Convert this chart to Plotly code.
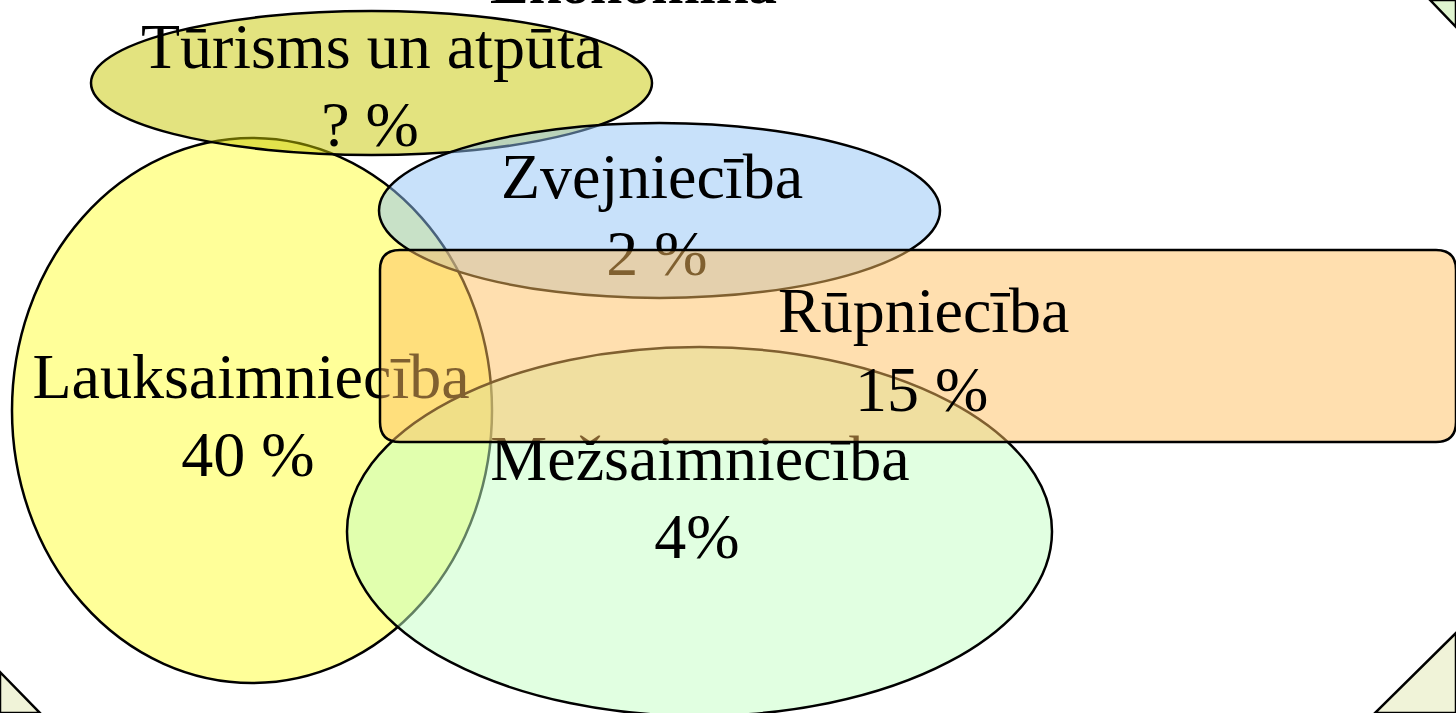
import plotly.graph_objects as go

# ---- data ----
sectors = ["Lauksaimniecība", "Tūrisms un atpūta", "Zvejniecība", "Mežsaimniecība", "Rūpniecība"]
shares = ["40 %", "? %", "2 %", "4%", "15 %"]
title_text = "Ekonomika"

# ---- layout geometry (pixel space, y downward) ----
W, H = 1456, 713
ellipse_boxes = {
    "Lauksaimniecība": (12, 138, 492, 683),
    "Tūrisms un atpūta": (91, 11, 652, 155),
    "Zvejniecība": (379, 123, 940, 298),
    "Mežsaimniecība": (347, 347, 1052, 716),
}
ellipse_fill = {
    "Lauksaimniecība": "rgb(255,255,153)",
    "Tūrisms un atpūta": "rgba(200,200,0,0.5)",
    "Zvejniecība": "rgba(145,195,245,0.5)",
    "Mežsaimniecība": "rgba(196,255,196,0.5)",
}
rect_box = (380, 250, 1456, 442)
rect_radius = 20
rect_fill = "rgba(255,192,96,0.5)"

# label centres: (x line1, baseline line1, x line2, baseline line2)
label_pos = {
    "Lauksaimniecība": (251, 401, 248, 479),
    "Tūrisms un atpūta": (372, 71, 370, 149),
    "Zvejniecība": (652, 201, 657, 278),
    "Mežsaimniecība": (700, 483, 697, 561),
    "Rūpniecība": (923, 332, 921, 411),
}
FS = 64
FONT = "Liberation Serif, Times New Roman, serif"
LW = 2.5

fig = go.Figure()

shapes = []
# corner decorations of the slide frame
shapes.append(dict(type="path", path=f"M 0 672 L 40 {H} L 0 {H} Z", layer="below",
                   fillcolor="#f0f3d8", line=dict(color="black", width=LW)))
shapes.append(dict(type="path", path=f"M {W} 633 L 1375 {H} L {W} {H} Z", layer="below",
                   fillcolor="#f0f3d8", line=dict(color="black", width=LW)))
shapes.append(dict(type="path", path=f"M 1430 0 L {W} 27 L {W} 0 Z", layer="below",
                   fillcolor="#e0f5d0", line=dict(color="black", width=LW)))

for s in ["Lauksaimniecība", "Tūrisms un atpūta", "Zvejniecība", "Mežsaimniecība"]:
    x0, y0, x1, y1 = ellipse_boxes[s]
    shapes.append(dict(type="circle", xref="x", yref="y", x0=x0, y0=y0, x1=x1, y1=y1,
                       layer="below", fillcolor=ellipse_fill[s],
                       line=dict(color="black", width=LW)))

x0, y0, x1, y1 = rect_box
r = rect_radius
rect_path = (f"M {x0+r} {y0} L {x1-r} {y0} Q {x1} {y0} {x1} {y0+r} "
             f"L {x1} {y1-r} Q {x1} {y1} {x1-r} {y1} L {x0+r} {y1} "
             f"Q {x0} {y1} {x0} {y1-r} L {x0} {y0+r} Q {x0} {y0} {x0+r} {y0} Z")
shapes.append(dict(type="path", path=rect_path, layer="above", fillcolor=rect_fill,
                   line=dict(color="black", width=LW)))

# text below the rectangle (scatter text)
tx, ty, tt = [], [], []
for s, p in zip(sectors, shares):
    if s == "Rūpniecība":
        continue
    xa, ya, xb, yb = label_pos[s]
    tx += [xa, xb]
    ty += [ya - 0.3 * FS, yb - 0.3 * FS]
    tt += [s, p]
fig.add_trace(go.Scatter(x=tx, y=ty, text=tt, mode="text", textposition="middle center",
                         textfont=dict(family=FONT, size=FS, color="black"),
                         cliponaxis=False, hoverinfo="skip", showlegend=False))

annotations = []
i = sectors.index("Rūpniecība")
xa, ya, xb, yb = label_pos["Rūpniecība"]
for x, y, t in [(xa, ya, sectors[i]), (xb, yb, shares[i])]:
    annotations.append(dict(x=x, y=y - 0.34 * FS, text=t, showarrow=False, xanchor="center",
                            yanchor="middle", font=dict(family=FONT, size=FS, color="black")))
annotations.append(dict(x=633, y=18, text=f"<b>{title_text}</b>", showarrow=False,
                        xanchor="center", yanchor="bottom",
                        font=dict(family=FONT, size=58, color="black")))

fig.update_layout(
    width=W, height=H, margin=dict(l=0, r=0, t=0, b=0),
    paper_bgcolor="white", plot_bgcolor="white",
    shapes=shapes, annotations=annotations, showlegend=False,
    xaxis=dict(range=[0, W], visible=False, fixedrange=True),
    yaxis=dict(range=[H, 0], visible=False, fixedrange=True),
)
fig.write_html("out.html", config={"displayModeBar": False},
               post_script="document.body.style.margin='0px';document.body.style.overflow='hidden';")
